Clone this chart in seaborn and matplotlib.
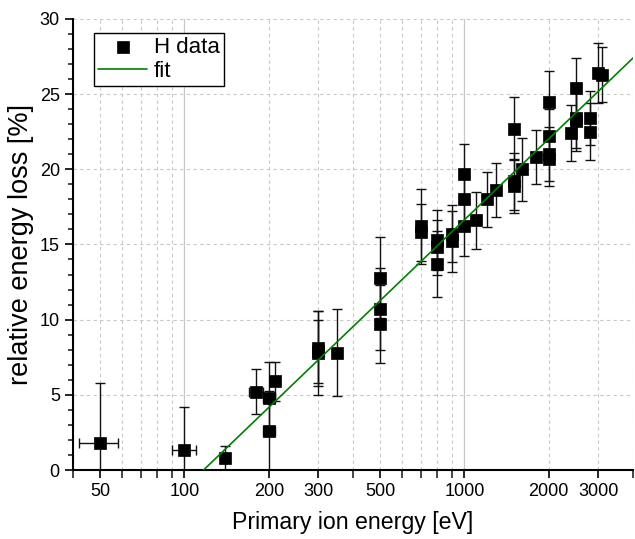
import matplotlib
matplotlib.use("Agg")
import matplotlib.pyplot as plt
import numpy as np
import pandas as pd
import seaborn as sns

# measured points: primary ion energy [eV], relative energy loss [%]
energy = [50, 100, 140, 180, 200, 200, 210, 300, 300, 300, 350,
          500, 500, 500, 700, 700, 800, 800, 800, 900, 900,
          1000, 1000, 1000, 1100, 1200, 1300, 1500, 1500, 1500, 1600,
          1800, 2000, 2000, 2000, 2000, 2400, 2500, 2500, 2500, 2800,
          2800, 3000, 3100]
loss = [1.8, 1.3, 0.8, 5.2, 4.8, 2.6, 5.9, 8.1, 7.9, 7.8, 7.8,
        12.8, 10.7, 9.7, 16.2, 15.8, 15.3, 14.8, 13.7, 15.7, 15.2,
        19.7, 18.0, 16.2, 16.6, 18.0, 18.6, 22.7, 19.2, 18.9, 20.0,
        20.8, 24.5, 22.2, 21.0, 20.7, 22.4, 25.4, 23.4, 23.2, 23.4,
        22.5, 26.4, 26.3]
loss_err = [4.0, 2.9, 0.8, 1.5, 2.35, 2.65, 1.3, 2.5, 2.1, 2.8, 2.9,
            2.7, 2.7, 2.6, 2.5, 1.9, 2.0, 1.8, 2.2, 1.9, 2.0,
            2.0, 1.9, 2.0, 1.9, 1.85, 1.8, 2.1, 1.9, 1.8, 2.1,
            1.8, 2.05, 1.8, 1.8, 1.8, 1.85, 2.0, 2.0, 2.0, 1.8,
            1.9, 2.0, 1.85]
energy_err = [8, 10, 0, 10, 10, 10, 8, 0, 0, 0, 0,
              0, 0, 0, 0, 0, 0, 0, 0, 0, 0,
              0, 0, 0, 0, 0, 0, 0, 0, 0, 0,
              0, 0, 0, 0, 0, 0, 0, 0, 0, 0,
              0, 0, 0]

# fit line end points (linear in log E)
fit_x = [117, 4000]
fit_y = [0.0, 27.4]

x_major = [50, 100, 200, 300, 500, 1000, 2000, 3000]
x_minor = [40, 60, 70, 80, 90, 400, 600, 700, 800, 900, 4000]
decades = [100, 1000]

sns.set_style("ticks")
plt.rcParams["font.family"] = ["Liberation Sans", "DejaVu Sans"]
plt.rcParams["text.color"] = "black"
plt.rcParams["axes.labelcolor"] = "black"

df = pd.DataFrame({"energy": energy, "loss": loss})
fit_df = pd.DataFrame({"energy": fit_x, "loss": fit_y})

fig = plt.figure(figsize=(6.35, 5.39), dpi=100)
ax = fig.add_axes([0.115, 0.128, 0.882, 0.837])
ax.set_xscale("log")

# grid
for v in x_major + x_minor:
    if v not in decades:
        ax.axvline(v, color="#c8c8c8", ls=(0, (3, 3)), lw=0.8, zorder=0)
for v in decades:
    ax.axvline(v, color="#c8c8c8", ls="-", lw=0.9, zorder=0)
for v in range(5, 31, 5):
    ax.axhline(v, color="#c8c8c8", ls=(0, (3, 3)), lw=0.8, zorder=0)

ax.errorbar(energy, loss, yerr=loss_err,
            xerr=[e if e > 0 else np.nan for e in energy_err],
            fmt="none", ecolor="#111111", elinewidth=1.0, capsize=3.5,
            capthick=1.0, zorder=2)
sns.scatterplot(data=df, x="energy", y="loss", marker="s", s=64,
                color="black", edgecolor="black", linewidth=0.5,
                label="H data", ax=ax, zorder=3)
sns.lineplot(data=fit_df, x="energy", y="loss", color="#008000", lw=1.2,
             label="fit", ax=ax, zorder=4)

ax.set_xlim(40, 4000)
ax.set_ylim(0, 30)
ax.set_xticks(x_major)
ax.set_xticklabels([str(v) for v in x_major])
ax.set_xticks(x_minor, minor=True)
ax.xaxis.set_minor_formatter(matplotlib.ticker.NullFormatter())
ax.set_yticks(range(0, 31, 5))
ax.set_yticks(range(0, 31, 1), minor=True)

ax.tick_params(axis="both", which="major", direction="out", length=6,
               width=1.2, labelsize=13, colors="black")
ax.tick_params(axis="x", which="minor", direction="out", length=6, width=1.2)
ax.tick_params(axis="y", which="minor", direction="out", length=3.5, width=1.2)

for side in ["top", "right"]:
    ax.spines[side].set_visible(False)
for side in ["left", "bottom"]:
    ax.spines[side].set_linewidth(1.5)
    ax.spines[side].set_color("black")

ax.set_xlabel("Primary ion energy [eV]", fontsize=16.7, labelpad=8)
ax.set_ylabel("relative energy loss [%]", fontsize=19.5, labelpad=4)

leg = ax.legend(loc="upper left", bbox_to_anchor=(0.0375, 0.969),
                borderaxespad=0, fontsize=16, frameon=True, fancybox=False,
                handlelength=2.2, handletextpad=0.3, labelspacing=0.1,
                borderpad=0.2, markerscale=1.0)
leg.get_frame().set_edgecolor("black")
leg.get_frame().set_linewidth(1.0)
leg.get_frame().set_alpha(1)

fig.savefig("out.png", dpi=100)
